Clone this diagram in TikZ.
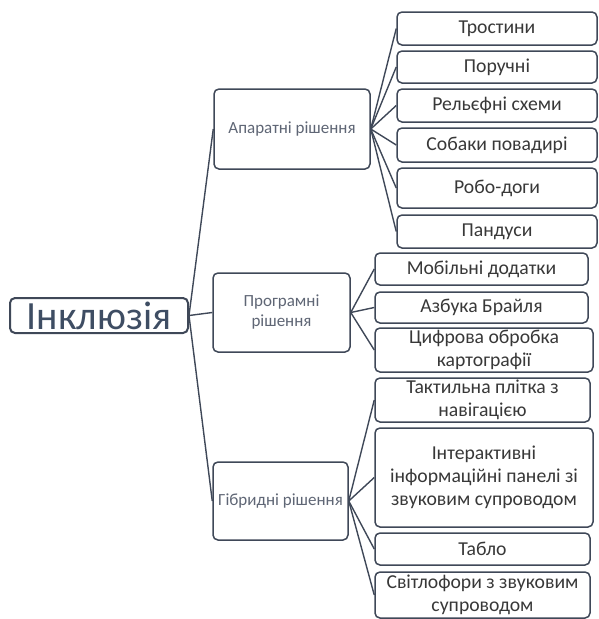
\documentclass[tikz,border=0pt]{standalone}
\usepackage{fontspec}
\setmainfont{Carlito}
\definecolor{edge}{HTML}{3F4858}
\definecolor{rootink}{HTML}{3E4D63}
\definecolor{midink}{HTML}{5F6675}
\definecolor{leafink}{HTML}{383838}
\begin{document}
\begin{tikzpicture}[x=1pt, y=-1pt,
  box/.style={draw=edge, line width=1.5pt, rounded corners=5pt, fill=white, align=center, inner sep=1pt},
  rootbox/.style={box, line width=2pt, text=rootink, font=\fontsize{40}{42}\selectfont},
  midbox/.style={box, text=midink, font=\fontsize{17}{20}\selectfont},
  leafbox/.style={box, text=leafink, font=\fontsize{19.7}{23}\selectfont},
  link/.style={draw=edge, line width=1.4pt}]

  \useasboundingbox (0,0) rectangle (599,619);

	%root and branches
  \node[rootbox, minimum width=178pt, minimum height=35pt] (root) at (99,315.5) {Інклюзія};
  \node[midbox, minimum width=156pt, minimum height=80pt] (hw) at (292,129) {Апаратні рішення};
  \node[midbox, minimum width=137pt, minimum height=79pt] (sw) at (281.5,312.5) {Програмні\\рішення};
  \node[midbox, minimum width=135pt, minimum height=78pt] (hy) at (280.5,501) {Гібридні рішення};

	%hardware leaves
  \foreach \y/\h/\txt/\name in {28.5/33/Тростини/a1, 67/32/Поручні/a2, 105.5/33/Рельєфні схеми/a3,
      145/34/Собаки повадирі/a4, 188/40/Робо-доги/a5, 231.5/33/Пандуси/a6}{
    \node[leafbox, minimum width=200pt, minimum height=\h pt] (\name) at (497,\y) {\txt};
  }

	%software leaves
  \foreach \x/\y/\w/\h/\txt/\name in {481.5/269/213/32/Мобільні додатки/p1, 481.5/307.5/213/31/Азбука Брайля/p2,
      484/350/218/44/Цифрова обробка\\картографії/p3}{
    \node[leafbox, minimum width=\w pt, minimum height=\h pt] (\name) at (\x,\y) {\txt};
  }

	%hybrid leaves
  \foreach \x/\y/\w/\h/\txt/\name in {482.5/400/215/44/Тактильна плітка з\\навігацією/g1,
      484/477.5/218/99/Інтерактивні\\інформаційні панелі зі\\звуковим супроводом/g2,
      482.5/549/215/32/Табло/g3, 482.5/595/215/46/Світлофори з звуковим\\супроводом/g4}{
    \node[leafbox, minimum width=\w pt, minimum height=\h pt] (\name) at (\x,\y) {\txt};
  }

	%connectors
  \foreach \c in {hw,sw,hy} \draw[link] (root.east) -- (\c.west);
  \foreach \c in {a1,a2,a3,a4,a5,a6} \draw[link] (hw.east) -- (\c.west);
  \foreach \c in {p1,p2,p3} \draw[link] (sw.east) -- (\c.west);
  \foreach \c in {g1,g2,g3,g4} \draw[link] (hy.east) -- (\c.west);

\end{tikzpicture}
\end{document}
